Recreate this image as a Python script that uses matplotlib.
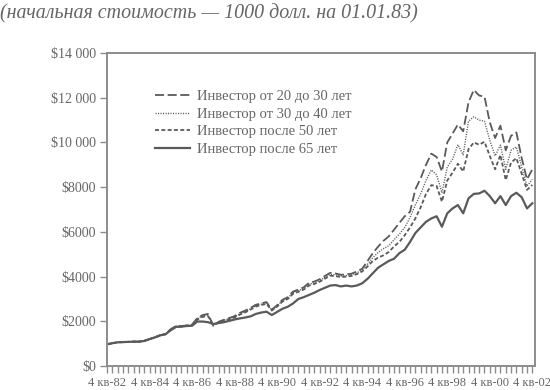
import numpy as np
import matplotlib.pyplot as plt
from matplotlib.ticker import FuncFormatter, MultipleLocator

# quarterly values, 4Q82 .. 4Q02
quarters = np.arange(81)
year_labels = ["4 кв-82", "4 кв-84", "4 кв-86", "4 кв-88", "4 кв-90", "4 кв-92",
               "4 кв-94", "4 кв-96", "4 кв-98", "4 кв-00", "4 кв-02"]

inv_20_30 = [970, 1020, 1060, 1070, 1080, 1090, 1090, 1130, 1210, 1290,
             1380, 1430, 1650, 1790, 1780, 1820, 1850, 2150, 2280, 2330,
             1800, 1980, 2070, 2150, 2230, 2380, 2480, 2600, 2740, 2800,
             2860, 2520, 2720, 2960, 3080, 3330, 3420, 3520, 3720, 3780,
             3880, 4030, 4170, 4140, 4080, 4100, 4130, 4230, 4350, 4700,
             5050, 5340, 5600, 5800, 6100, 6400, 6700, 6900, 7900, 8400,
             9000, 9500, 9350, 8700, 10000, 10400, 10800, 10500, 11800, 12350,
             12100, 12050, 10900, 10200, 10750, 9650, 10300, 10450, 9300, 8350, 8800]

inv_30_40 = [970, 1020, 1060, 1070, 1080, 1090, 1090, 1125, 1205, 1285,
             1375, 1425, 1640, 1780, 1775, 1810, 1840, 2120, 2240, 2280,
             1820, 1960, 2050, 2120, 2200, 2340, 2440, 2560, 2700, 2770,
             2820, 2500, 2690, 2920, 3040, 3280, 3370, 3470, 3660, 3720,
             3820, 3970, 4100, 4080, 4030, 4050, 4080, 4170, 4290, 4550,
             4850, 5080, 5250, 5380, 5650, 5900, 6200, 6650, 7200, 7700,
             8300, 8770, 8550, 7750, 8900, 9250, 9900, 9450, 10950, 11150,
             11000, 10950, 10100, 9400, 9880, 8800, 9650, 9800, 8900, 8050, 8350]

inv_50 = [970, 1020, 1060, 1070, 1080, 1090, 1090, 1120, 1200, 1280,
          1370, 1420, 1630, 1770, 1770, 1800, 1830, 2080, 2200, 2230,
          1840, 1940, 2020, 2090, 2170, 2300, 2400, 2520, 2660, 2730,
          2780, 2480, 2660, 2880, 3000, 3230, 3320, 3420, 3600, 3670,
          3770, 3910, 4040, 4020, 3980, 4000, 4030, 4110, 4230, 4450,
          4700, 4850, 4950, 5100, 5350, 5550, 5850, 6200, 6600, 7100,
          7700, 8090, 8050, 7350, 8300, 8650, 9050, 8700, 9700, 10000,
          9900, 10030, 9400, 8800, 9440, 8320, 9100, 9300, 8600, 7880, 8100]

inv_65 = [970, 1020, 1060, 1070, 1080, 1090, 1090, 1120, 1200, 1280,
          1370, 1420, 1600, 1750, 1760, 1790, 1800, 1990, 1990, 1960,
          1880, 1920, 1960, 2020, 2080, 2130, 2170, 2220, 2330, 2390,
          2430, 2280, 2420, 2560, 2650, 2800, 3000, 3080, 3180, 3280,
          3400, 3500, 3600, 3620, 3560, 3600, 3560, 3600, 3700, 3900,
          4150, 4400, 4550, 4700, 4800, 5050, 5200, 5550, 5950, 6200,
          6450, 6600, 6700, 6230, 6830, 7050, 7200, 6830, 7500, 7700,
          7720, 7840, 7600, 7280, 7600, 7200, 7600, 7750, 7550, 7050, 7280]

names = ["Инвестор от 20 до 30 лет", "Инвестор от 30 до 40 лет",
         "Инвестор после 50 лет", "Инвестор после 65 лет"]

plt.rcParams['font.family'] = ['Liberation Serif', 'DejaVu Serif']
line_col = '#5a5a5a'
text_col = '#666666'
axis_col = '#8c8c8c'

fig = plt.figure(figsize=(5.5, 3.9), dpi=100)
ax = fig.add_axes([0.1945, 0.0615, 0.7782, 0.8025])

ax.plot(quarters, inv_20_30, color=line_col, lw=1.3, dashes=(5, 2), label=names[0])
ax.plot(quarters, inv_30_40, color=line_col, lw=1.0, dashes=(0.8, 1.0), label=names[1])
ax.plot(quarters, inv_50, color=line_col, lw=1.3, dashes=(2.2, 1.3), label=names[2])
ax.plot(quarters, inv_65, color=line_col, lw=1.6, label=names[3])

ax.set_xlim(0, 80.5)
ax.set_ylim(0, 14000)

ax.set_xticks(np.arange(0, 81, 8))
ax.set_xticklabels(year_labels)
ax.xaxis.set_minor_locator(MultipleLocator(1))
ax.set_yticks(np.arange(0, 14001, 2000))


def money(v, pos):
    v = int(v)
    if v >= 10000:
        return "$%d %03d" % (v // 1000, v % 1000)
    return "$%d" % v


ax.yaxis.set_major_formatter(FuncFormatter(money))
ax.tick_params(axis='both', which='both', direction='out', color=axis_col,
               labelcolor=text_col, labelsize=10, width=1)
ax.tick_params(axis='x', which='both', length=5, pad=3, labelsize=9)
ax.tick_params(axis='y', which='minor', left=False)
ax.tick_params(axis='y', length=5, pad=3)
for s in ax.spines.values():
    s.set_color(axis_col)
    s.set_linewidth(1.4)

leg = ax.legend(loc='upper left', bbox_to_anchor=(0.095, 0.905), frameon=False,
                handlelength=2.4, handletextpad=0.5, labelspacing=0.3,
                borderpad=0, fontsize=10.5)
for t in leg.get_texts():
    t.set_color(text_col)

fig.text(0.0, 0.965, "(начальная стоимость — 1000 долл. на 01.01.83)",
         fontsize=14.4, style='italic', color=text_col, va='center', ha='left')

fig.savefig("out.png", dpi=100)
